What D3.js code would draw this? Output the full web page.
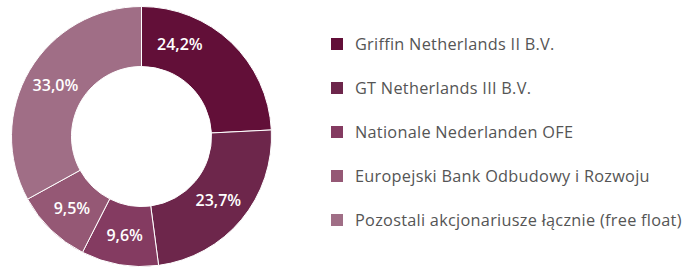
<!DOCTYPE html>
<html><head><meta charset="utf-8">
<script src="https://cdn.jsdelivr.net/npm/d3@7"></script>
<style>body{margin:0;background:#fff}svg{display:block}</style>
</head><body>
<svg id="c" width="695" height="278"></svg>
<script>
const categories = ["Griffin Netherlands II B.V.","GT Netherlands III B.V.","Nationale Nederlanden OFE","Europejski Bank Odbudowy i Rozwoju","Pozostali akcjonariusze łącznie (free float)"];
const values = [24.2, 23.7, 9.6, 9.5, 33.0];
const valueLabels = ["24,2%","23,7%","9,6%","9,5%","33,0%"];
const colors = ["#620f38","#6d264b","#843b61","#955875","#a06e86"];
const labelAngleShift = [-21, 0, 0, 0, 0]; // degrees

const svg = d3.select("#c");
const cx = 141.5, cy = 136.5, rOut = 130, rIn = 70;
const g = svg.append("g").attr("transform", `translate(${cx},${cy})`);
const pie = d3.pie().sort(null).value(d => d);
const arcs = pie(values);
const arc = d3.arc().innerRadius(rIn).outerRadius(rOut);
g.selectAll("path").data(arcs).join("path")
  .attr("d", arc).attr("fill", (d,i) => colors[i])
  .attr("stroke", "#fff").attr("stroke-width", 1);
g.selectAll("text").data(arcs).join("text")
  .attr("transform", (d,i) => {
    const a = (d.startAngle + d.endAngle)/2 + labelAngleShift[i]*Math.PI/180;
    const r = 100;
    return `translate(${r*Math.sin(a)},${-r*Math.cos(a)})`;
  })
  .attr("text-anchor","middle").attr("dy","0.35em")
  .attr("fill","#fff").attr("font-family","'Open Sans', sans-serif")
  .attr("font-size",16).attr("font-weight",600)
  .text((d,i) => valueLabels[i]);

const y = d3.scalePoint().domain(categories).range([44, 220]);
const leg = svg.append("g");
const rows = leg.selectAll("g").data(categories).join("g")
  .attr("transform", d => `translate(331,${y(d)})`);
rows.append("rect").attr("x",0).attr("y",-6).attr("width",12).attr("height",12)
  .attr("fill",(d,i)=>colors[i]);
rows.append("text").attr("x",24).attr("dy","0.35em")
  .attr("font-family","'Open Sans', sans-serif").attr("font-size",16.3)
  .attr("letter-spacing",0.28).attr("fill","#555")
  .text(d=>d);
</script>
</body></html>
